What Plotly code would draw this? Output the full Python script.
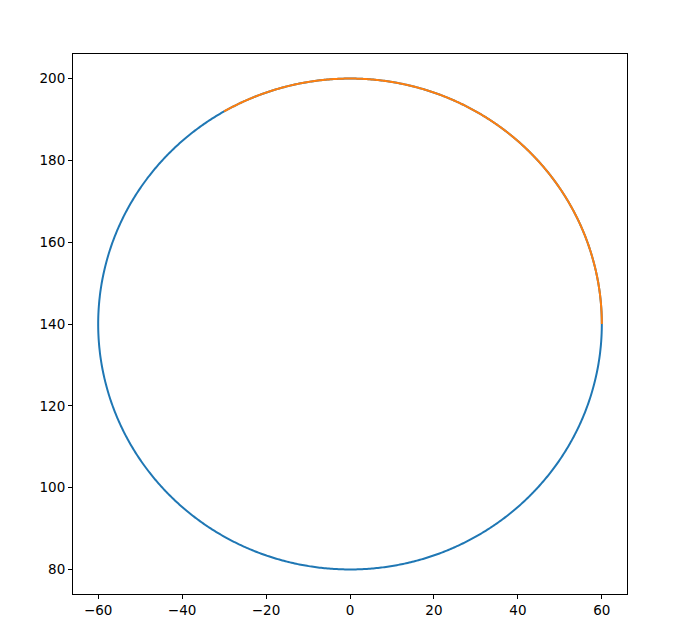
import numpy as np
import plotly.graph_objects as go

# Circle parameters
center_x = 0.0
center_y = 140.0
radius = 60.0
full_circle_deg = [0.0, 360.0]
arc_deg = [0.0, 120.0]

x_ticks = [-60, -40, -20, 0, 20, 40, 60]
y_ticks = [80, 100, 120, 140, 160, 180, 200]

def curve(deg_range, n=1000):
    t = np.radians(np.linspace(deg_range[0], deg_range[1], n))
    return center_x + radius * np.cos(t), center_y + radius * np.sin(t)

cx, cy = curve(full_circle_deg)
ax, ay = curve(arc_deg)

fig = go.Figure()
fig.add_trace(go.Scatter(x=cx, y=cy, mode="lines",
                         line=dict(color="#1f77b4", width=2, simplify=False), showlegend=False))
fig.add_trace(go.Scatter(x=ax, y=ay, mode="lines",
                         line=dict(color="#ff7f0e", width=2, simplify=False), showlegend=False))

def fmt(v):
    return str(v).replace("-", "\u2212")

axis_common = dict(
    showgrid=False, zeroline=False, showline=True, linecolor="black", linewidth=1,
    mirror=True, ticks="outside", ticklen=4, tickwidth=1, tickcolor="black",
    tickfont=dict(family="DejaVu Sans", size=13.5, color="black"),
)
fig.update_layout(
    width=682, height=633,
    margin=dict(l=65, r=63, t=46, b=47),
    plot_bgcolor="white", paper_bgcolor="white",
    xaxis=dict(range=[-66, 66], tickvals=x_ticks, ticktext=[fmt(v) for v in x_ticks], **axis_common),
    yaxis=dict(range=[74, 206], tickvals=y_ticks, ticktext=[fmt(v) for v in y_ticks], **axis_common),
)
fig.write_html("out.html")
